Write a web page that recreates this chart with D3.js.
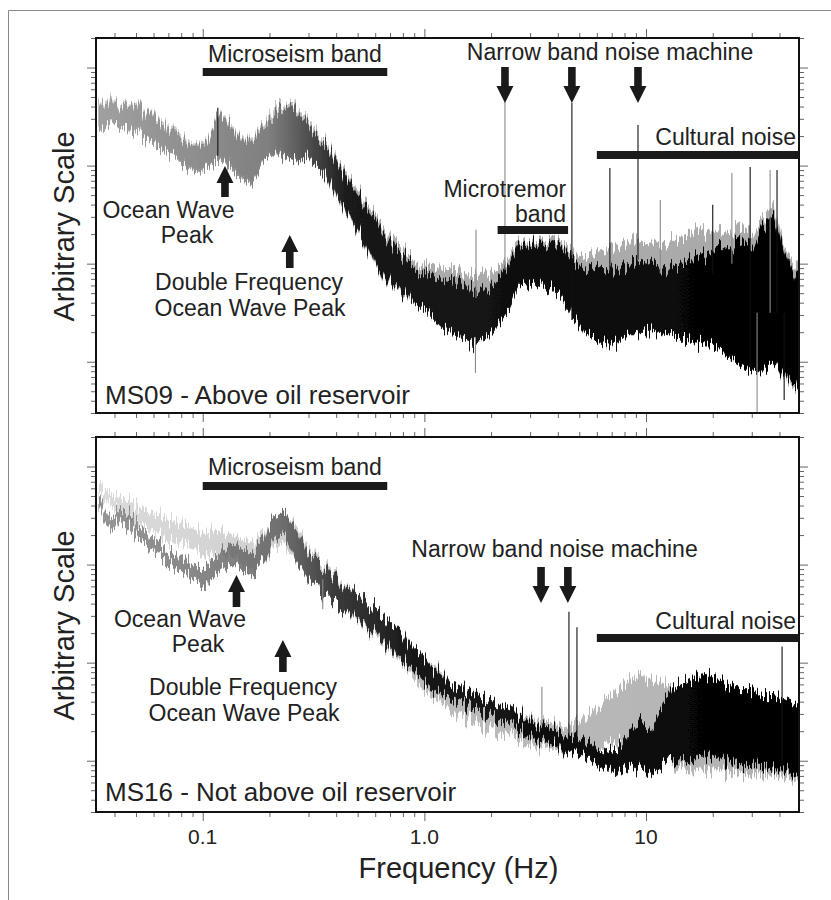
<!DOCTYPE html>
<html>
<head>
<meta charset="utf-8">
<script src="https://cdn.jsdelivr.net/npm/d3@7"></script>
<style>
  body { margin: 0; background: #fff; }
  text { font-family: "Liberation Sans", Arial, Helvetica, sans-serif; fill: #222; }
</style>
</head>
<body>
<div id="chart"></div>
<script>
// frequency grid (Hz) shared by all traces
const freqHz = [0.034, 0.038, 0.042, 0.047, 0.053, 0.06, 0.067, 0.075, 0.084, 0.094,
  0.105, 0.118, 0.133, 0.149, 0.167, 0.188, 0.21, 0.236, 0.265, 0.3,
  0.335, 0.375, 0.42, 0.47, 0.53, 0.6, 0.67, 0.75, 0.84, 0.94,
  1.05, 1.18, 1.33, 1.5, 1.68, 1.88, 2.1, 2.37, 2.65, 3.0,
  3.35, 3.75, 4.2, 4.7, 5.3, 6.0, 6.7, 7.5, 8.4, 9.4,
  10.5, 11.8, 13.3, 15, 16.8, 18.8, 21, 23.7, 26.5, 30,
  33.5, 37.5, 42, 47, 49];

// spectral level, dB (arbitrary ref) - upper / lower edge of each trace
const ms09BlackHi = [73.4, 72.8, 72.6, 71.8, 71.0, 70.1, 68.3, 66.3, 64.6, 63.8,
  64.6, 70.0, 68.3, 65.2, 64.6, 67.7, 70.3, 71.8, 71.0, 68.3,
  65.2, 62.6, 59.1, 55.9, 52.4, 48.9, 45.5, 42.4, 40.8, 38.7,
  37.5, 36.7, 36.3, 35.5, 34.2, 34.6, 36.3, 39.5, 42.8, 44.6,
  44.0, 43.8, 42.8, 40.4, 38.7, 39.3, 38.3, 38.7, 39.5, 41.2,
  40.4, 39.1, 39.5, 40.8, 40.8, 42.2, 43.4, 42.8, 44.4, 43.2,
  47.3, 49.9, 42.8, 37.7, 36.7];
const ms09BlackLo = [67.7, 68.7, 68.5, 66.9, 65.9, 64.6, 63.2, 61.8, 59.5, 58.7,
  59.7, 61.2, 59.5, 57.5, 56.1, 61.2, 62.6, 61.6, 60.8, 61.8,
  59.5, 56.5, 52.4, 48.9, 44.8, 40.1, 37.1, 34.6, 33.4, 31.6,
  30.1, 27.1, 25.9, 24.8, 23.8, 24.8, 26.9, 30.1, 35.0, 36.5,
  35.9, 34.6, 32.6, 28.9, 25.9, 24.4, 23.8, 24.0, 25.9, 25.9,
  26.3, 25.9, 25.5, 24.4, 24.0, 23.8, 23.0, 21.0, 19.5, 18.1,
  17.9, 20.0, 17.3, 15.3, 14.2];
const ms09GreyHi = [73.8, 73.4, 73.0, 72.2, 71.4, 70.5, 68.9, 66.9, 65.2, 64.2,
  65.2, 70.3, 68.9, 65.6, 65.2, 68.3, 71.8, 72.4, 71.8, 69.3,
  66.3, 63.2, 59.9, 56.7, 53.4, 49.9, 46.5, 43.8, 41.8, 40.4,
  39.3, 39.1, 38.7, 37.7, 37.3, 38.1, 38.7, 40.8, 43.8, 45.2,
  44.8, 44.8, 43.8, 41.8, 41.2, 42.2, 42.8, 43.4, 44.2, 45.5,
  43.8, 44.2, 44.8, 46.1, 46.5, 46.9, 46.5, 45.9, 47.3, 45.9,
  48.9, 52.0, 43.8, 39.7, 38.7];
const ms09GreyLo = [68.1, 68.9, 68.5, 67.3, 66.3, 64.8, 63.6, 62.0, 60.1, 59.1,
  60.1, 61.6, 60.1, 58.1, 56.7, 61.2, 63.2, 62.2, 61.2, 61.6,
  59.5, 56.1, 52.0, 48.5, 44.4, 39.7, 36.7, 34.2, 33.0, 31.6,
  30.1, 27.5, 26.5, 25.5, 24.4, 25.5, 27.5, 30.6, 35.0, 36.7,
  36.3, 35.0, 33.0, 29.5, 26.5, 24.8, 24.0, 24.4, 25.9, 25.9,
  26.3, 25.9, 25.5, 24.4, 24.0, 23.8, 23.0, 21.0, 19.5, 18.1,
  17.9, 20.0, 16.7, 14.6, 13.8];

const ms16BlackHi = [74.0, 68.9, 71.3, 70.3, 67.2, 65.2, 63.5, 62.1, 60.5, 59.4,
  59.9, 61.5, 64.2, 63.5, 62.5, 65.2, 69.7, 70.7, 67.2, 62.1,
  60.1, 58.0, 56.0, 54.7, 52.9, 50.9, 48.8, 46.8, 44.3, 42.3,
  39.6, 37.6, 35.5, 34.7, 33.9, 32.7, 31.6, 30.4, 29.4, 28.0,
  26.9, 26.1, 25.3, 24.7, 23.9, 22.6, 21.4, 22.6, 25.9, 28.4,
  26.7, 31.2, 34.9, 36.1, 37.2, 37.4, 36.5, 35.5, 34.5, 34.5,
  33.1, 33.1, 32.5, 31.4, 30.8];
const ms16BlackLo = [72.3, 66.6, 68.9, 67.6, 64.8, 62.7, 61.1, 59.4, 57.6, 56.6,
  56.0, 58.0, 60.1, 59.4, 58.0, 60.7, 64.8, 66.2, 61.1, 56.6,
  54.9, 52.9, 50.9, 49.8, 47.8, 46.2, 43.7, 41.5, 39.6, 37.6,
  34.9, 33.5, 32.7, 31.8, 30.8, 29.8, 28.6, 27.3, 26.3, 24.9,
  23.9, 23.0, 22.2, 21.4, 20.6, 19.2, 18.1, 17.7, 19.2, 18.5,
  18.1, 19.2, 20.2, 20.2, 21.0, 21.2, 20.2, 20.2, 19.2, 19.2,
  19.0, 18.1, 18.1, 17.1, 16.5];
const ms16GreyHi = [76.6, 74.4, 73.8, 72.9, 71.3, 70.3, 69.7, 68.9, 67.8, 67.2,
  66.6, 66.6, 66.2, 65.2, 64.8, 66.2, 69.3, 70.7, 68.2, 63.1,
  61.1, 58.6, 56.6, 54.9, 52.9, 50.9, 48.8, 46.8, 44.7, 41.6,
  40.0, 38.2, 35.5, 34.5, 33.5, 32.5, 31.4, 30.4, 29.6, 28.8,
  28.0, 27.3, 26.9, 27.3, 28.8, 30.4, 32.5, 34.5, 36.5, 37.6,
  36.5, 35.9, 34.5, 34.5, 34.9, 34.5, 33.5, 33.5, 32.9, 32.5,
  32.0, 32.5, 31.4, 30.8, 30.4];
const ms16GreyLo = [74.8, 72.3, 70.9, 69.7, 68.2, 66.8, 65.6, 64.8, 63.9, 63.1,
  62.1, 61.5, 62.1, 60.7, 59.4, 60.7, 63.1, 64.2, 61.1, 57.0,
  54.9, 52.9, 50.9, 49.4, 47.4, 45.5, 43.1, 41.0, 39.0, 35.5,
  33.5, 31.8, 30.0, 29.0, 28.0, 26.9, 25.9, 24.9, 24.3, 23.2,
  22.6, 22.2, 21.8, 21.8, 22.2, 22.6, 23.2, 23.9, 24.3, 24.7,
  23.9, 22.6, 19.2, 18.5, 18.5, 18.1, 18.1, 17.7, 17.7, 17.1,
  17.1, 17.1, 16.5, 16.1, 15.7];

// narrow spectral lines: frequency, top dB, bottom dB, trace
const ms09SpikeHz = [0.117, 1.70, 1.71, 2.31, 4.63, 6.87, 9.2, 11.6, 20.0, 24.4, 29.5, 31.7, 36.3, 39.0, 42.0];
const ms09SpikeTop = [71.8, 25.0, 46.9, 73.0, 72.8, 59.5, 68.3, 53.0, 52.0, 58.5, 59.7, 30.0, 59.1, 59.1, 30.0];
const ms09SpikeBottom = [62.0, 17.7, 33.0, 38.7, 28.5, 38.7, 40.8, 38.0, 38.0, 40.0, 20.0, 9.6, 30.0, 30.0, 12.2];
const ms09SpikeTrace = ["black", "grey", "grey", "grey", "black", "black", "black", "grey", "black", "grey", "black", "grey", "grey", "black", "black"];

const ms16SpikeHz = [0.348, 3.39, 4.49, 4.88, 41.1];
const ms16SpikeTop = [57.0, 35.1, 50.4, 47.2, 43.3];
const ms16SpikeBottom = [50.9, 27.3, 24.3, 24.3, 19.2];
const ms16SpikeTrace = ["grey", "grey", "black", "black", "black"];

// annotated bands (Hz) and arrowed frequencies
const microseismBand = [0.1, 0.68];
const culturalBand = [6, 49];
const microtremorBand = [2.14, 4.45];
const ms09MachineHz = [2.31, 4.63, 9.2];
const ms16MachineHz = [3.36, 4.44];
const ms09OceanHz = [0.126, 0.247];
const ms16OceanHz = [0.142, 0.23];

const xTickLabels = [0.1, 1, 10];
const xTickText = ["0.1", "1.0", "10"];
const panelTitles = ["MS09 - Above oil reservoir", "MS16 - Not above oil reservoir"];

// ---------------------------------------------------------------
const width = 831, height = 900;
const plotLeft = 96, plotRight = 799, panelHeight = 375;
const panelTops = [38, 437];

const x = d3.scaleLog().domain([0.033, 49]).range([plotLeft, plotRight]);
const toAmp = (dB) => Math.pow(10, dB / 20);

const svg = d3.select("#chart").append("svg")
	.attr("width", width)
	.attr("height", height);

const defs = svg.append("defs");

// ragged edge texture for the spectra (pure rendering, data untouched)
const rough = defs.append("filter")
	.attr("id", "rough")
	.attr("filterUnits", "userSpaceOnUse")
	.attr("x", 0).attr("y", 0).attr("width", width).attr("height", height);
rough.append("feTurbulence")
	.attr("type", "fractalNoise")
	.attr("baseFrequency", "0.55 0.006")
	.attr("numOctaves", 2)
	.attr("seed", 4)
	.attr("result", "noise");
rough.append("feColorMatrix")
	.attr("in", "noise")
	.attr("type", "matrix")
	.attr("values", "1 0 0 0 0  0 0 0 0 0.5  0 0 0 0 0  0 0 0 0 1")
	.attr("result", "map");
rough.append("feDisplacementMap")
	.attr("in", "SourceGraphic")
	.attr("in2", "map")
	.attr("scale", 34)
	.attr("xChannelSelector", "G")
	.attr("yChannelSelector", "R");

// page frame (only top / left edge visible)
svg.append("path")
	.attr("d", "M8.5,900 V10.5 H831")
	.attr("fill", "none")
	.attr("stroke", "#888");

function gradient(id, stops) {
	const lg = defs.append("linearGradient")
		.attr("id", id)
		.attr("gradientUnits", "userSpaceOnUse")
		.attr("x1", plotLeft).attr("x2", plotRight)
		.attr("y1", 0).attr("y2", 0);
	lg.selectAll("stop").data(stops).enter().append("stop")
		.attr("offset", (d) => (x(d[0]) - plotLeft) / (plotRight - plotLeft))
		.attr("stop-color", (d) => d[1])
		.attr("stop-opacity", (d) => d[2]);
}

gradient("ms09Black", [[0.034, "#7c7c7c", 0.6], [0.2, "#686868", 0.75], [0.3, "#444", 0.92], [0.45, "#1a1a1a", 1], [49, "#000", 1]]);
gradient("ms09Grey", [[0.034, "#bcbcbc", 0.6], [0.3, "#b4b4b4", 0.85], [0.5, "#ababab", 1], [49, "#aaaaaa", 1]]);
gradient("ms16Black", [[0.034, "#6a6a6a", 0.7], [0.22, "#5c5c5c", 0.82], [0.4, "#3a3a3a", 1], [0.9, "#181818", 1], [49, "#000", 1]]);
gradient("ms16Grey", [[0.034, "#cfcfcf", 0.75], [0.3, "#c8c8c8", 0.9], [1, "#bcbcbc", 1], [49, "#b2b2b2", 1]]);

function label(g, text, lx, ly, anchor, size) {
	return g.append("text")
		.attr("x", lx)
		.attr("y", ly)
		.attr("text-anchor", anchor)
		.attr("font-size", size)
		.text(text);
}

function arrow(g, cx, baseY, tipY) {
	const dir = tipY > baseY ? 1 : -1;
	const headLen = 17, headHalf = 8.5, shaftHalf = 3.8;
	const neck = tipY - dir * headLen;
	const pts = [[cx - shaftHalf, baseY], [cx + shaftHalf, baseY], [cx + shaftHalf, neck],
		[cx + headHalf, neck], [cx, tipY], [cx - headHalf, neck], [cx - shaftHalf, neck]];
	g.append("path").attr("d", d3.line()(pts) + "Z").attr("fill", "#1a1a1a");
}

function bar(g, band, top) {
	g.append("rect")
		.attr("x", x(band[0]))
		.attr("y", top)
		.attr("width", x(band[1]) - x(band[0]))
		.attr("height", 8)
		.attr("fill", "#1a1a1a");
}

function drawPanel(i, trace) {
	const top = panelTops[i];
	const bottom = top + panelHeight;
	const y = d3.scaleLog().domain([3, 20000]).range([bottom, top]);
	const g = svg.append("g");

	defs.append("clipPath").attr("id", "clip" + i)
		.append("rect")
		.attr("x", plotLeft).attr("y", top)
		.attr("width", plotRight - plotLeft).attr("height", panelHeight);

	const plot = g.append("g").attr("clip-path", `url(#clip${i})`);
	const spectra = plot.append("g").attr("filter", "url(#rough)");

	const band = d3.area()
		.x((d) => x(d.f))
		.y0((d) => y(toAmp(d.lo)))
		.y1((d) => y(toAmp(d.hi)));
	const rows = (hi, lo) => freqHz.map((f, k) => ({ f, hi: hi[k], lo: lo[k] }));

	// grey trace underneath, black trace on top
	spectra.append("path")
		.datum(rows(trace.greyHi, trace.greyLo))
		.attr("d", band)
		.attr("fill", `url(#${trace.greyFill})`)
		.attr("stroke", `url(#${trace.greyFill})`)
		.attr("stroke-width", 0.8);

	spectra.append("path")
		.datum(rows(trace.blackHi, trace.blackLo))
		.attr("d", band)
		.attr("fill", `url(#${trace.blackFill})`)
		.attr("stroke", `url(#${trace.blackFill})`)
		.attr("stroke-width", 0.8);

	// narrow-band lines
	plot.selectAll(".spike").data(trace.spikeHz).enter()
		.append("line")
		.attr("class", "spike")
		.attr("x1", (d) => x(d)).attr("x2", (d) => x(d))
		.attr("y1", (d, k) => y(toAmp(trace.spikeTop[k])))
		.attr("y2", (d, k) => y(toAmp(trace.spikeBottom[k])))
		.attr("stroke", (d, k) => trace.spikeTrace[k] === "black" ? "#111" : "#8a8a8a")
		.attr("stroke-width", 1.1);

	// ticks
	const xt = x.ticks();
	const isMajor = (d) => Math.abs(Math.log10(d) - Math.round(Math.log10(d))) < 1e-6;
	const xMinor = xt.filter((d) => !isMajor(d));
	const xMajor = xt.filter(isMajor);
	const yt = y.ticks();
	const yMinor = yt.filter((d) => !isMajor(d));
	const yMajor = yt.filter(isMajor);

	const ticks = (axis, values, size, transform) => {
		g.append("g")
			.attr("transform", transform)
			.call(axis.tickValues(values).tickSize(size).tickFormat(""))
			.call((a) => a.select(".domain").remove())
			.selectAll("line").attr("stroke", "#666");
	};
	ticks(d3.axisTop(x), xMinor, 5, `translate(0,${top})`);
	ticks(d3.axisTop(x), xMajor, 9, `translate(0,${top})`);
	ticks(d3.axisBottom(x), xMinor, 5, `translate(0,${bottom})`);
	ticks(d3.axisBottom(x), xMajor, 9, `translate(0,${bottom})`);
	ticks(d3.axisLeft(y), yMinor, 5, `translate(${plotLeft},0)`);
	ticks(d3.axisLeft(y), yMajor, 9, `translate(${plotLeft},0)`);
	ticks(d3.axisRight(y), yMinor, 5, `translate(${plotRight},0)`);
	ticks(d3.axisRight(y), yMajor, 9, `translate(${plotRight},0)`);

	g.append("rect")
		.attr("x", plotLeft).attr("y", top)
		.attr("width", plotRight - plotLeft).attr("height", panelHeight)
		.attr("fill", "none")
		.attr("stroke", "#111")
		.attr("stroke-width", 2);

	// y title
	label(g, "Arbitrary Scale", 0, 0, "middle", 29)
		.attr("transform", `translate(74,${top + panelHeight / 2 + 1}) rotate(-90)`);

	label(g, panelTitles[i], 105, top + trace.titleY, "start", 26);

	return g;
}

// ---- MS09 ----
const g1 = drawPanel(0, {
	greyHi: ms09GreyHi, greyLo: ms09GreyLo, blackHi: ms09BlackHi, blackLo: ms09BlackLo,
	greyFill: "ms09Grey", blackFill: "ms09Black",
	spikeHz: ms09SpikeHz, spikeTop: ms09SpikeTop, spikeBottom: ms09SpikeBottom, spikeTrace: ms09SpikeTrace,
	titleY: 366,
});
{
	const t = panelTops[0];
	const mid = (b) => (x(b[0]) + x(b[1])) / 2;
	label(g1, "Microseism band", mid(microseismBand), t + 24, "middle", 23);
	bar(g1, microseismBand, t + 30);
	label(g1, "Narrow band noise machine", 610, t + 22, "middle", 23);
	ms09MachineHz.forEach((f) => arrow(g1, x(f), t + 29, t + 65));
	label(g1, "Cultural noise", 796, t + 107, "end", 23);
	bar(g1, culturalBand, t + 113);
	label(g1, "Microtremor", x(microtremorBand[1]) - 2, t + 159, "end", 23);
	label(g1, "band", x(microtremorBand[1]) - 2, t + 184, "end", 23);
	bar(g1, microtremorBand, t + 188);
	arrow(g1, x(ms09OceanHz[0]), t + 159, t + 128);
	label(g1, "Ocean Wave", 168.5, t + 180, "middle", 23);
	label(g1, "Peak", 187, t + 205, "middle", 23);
	arrow(g1, x(ms09OceanHz[1]), t + 230, t + 197);
	label(g1, "Double Frequency", 249, t + 252, "middle", 23);
	label(g1, "Ocean Wave Peak", 250, t + 278, "middle", 23);
}

// ---- MS16 ----
const g2 = drawPanel(1, {
	greyHi: ms16GreyHi, greyLo: ms16GreyLo, blackHi: ms16BlackHi, blackLo: ms16BlackLo,
	greyFill: "ms16Grey", blackFill: "ms16Black",
	spikeHz: ms16SpikeHz, spikeTop: ms16SpikeTop, spikeBottom: ms16SpikeBottom, spikeTrace: ms16SpikeTrace,
	titleY: 364,
});
{
	const t = panelTops[1];
	const mid = (b) => (x(b[0]) + x(b[1])) / 2;
	label(g2, "Microseism band", mid(microseismBand), t + 38, "middle", 23);
	bar(g2, microseismBand, t + 45);
	label(g2, "Narrow band noise machine", 554.5, t + 120, "middle", 23);
	ms16MachineHz.forEach((f) => arrow(g2, x(f), t + 130, t + 166));
	label(g2, "Cultural noise", 796, t + 192, "end", 23);
	bar(g2, culturalBand, t + 197);
	arrow(g2, x(ms16OceanHz[0]), t + 170, t + 138);
	label(g2, "Ocean Wave", 180, t + 190, "middle", 23);
	label(g2, "Peak", 198, t + 215, "middle", 23);
	arrow(g2, x(ms16OceanHz[1]), t + 235, t + 203);
	label(g2, "Double Frequency", 243, t + 258, "middle", 23);
	label(g2, "Ocean Wave Peak", 244, t + 284, "middle", 23);
}

// x tick labels and title
const axisBottomY = panelTops[1] + panelHeight;
svg.selectAll(".xlabel").data(xTickLabels).enter()
	.append("text")
	.attr("class", "xlabel")
	.attr("x", (d) => x(d))
	.attr("y", axisBottomY + 32)
	.attr("text-anchor", "middle")
	.attr("font-size", 21)
	.text((d, k) => xTickText[k]);

label(svg, "Frequency (Hz)", 458.5, axisBottomY + 66, "middle", 29);
</script>
</body>
</html>
